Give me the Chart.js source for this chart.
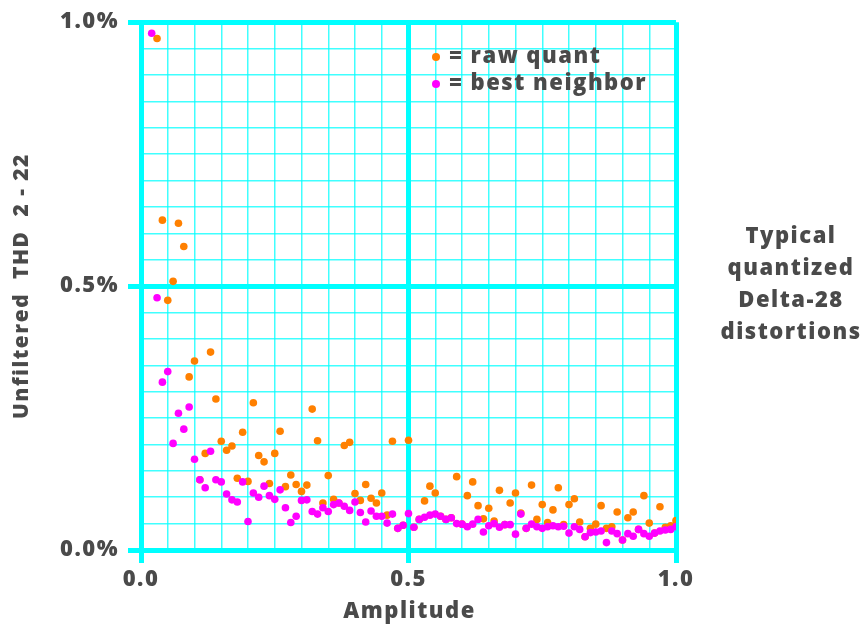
<!DOCTYPE html>
<html lang="en">
<head>
  <meta charset="UTF-8" />
  <title>Delta-28 distortions</title>
  <script src="https://cdn.jsdelivr.net/npm/chart.js"></script>
  <style>
    html, body { margin: 0; padding: 0; background: #fff; }
    #wrap { width: 861px; height: 629px; }
  </style>
</head>
<body>
<div id="wrap"><canvas id="thdChart" width="861" height="629"></canvas></div>
<script>
  // amplitude steps (x)
  const amplitude = [
    0.02, 0.03, 0.04, 0.05, 0.06, 0.07, 0.08, 0.09, 0.10, 0.11,
    0.12, 0.13, 0.14, 0.15, 0.16, 0.17, 0.18, 0.19, 0.20, 0.21,
    0.22, 0.23, 0.24, 0.25, 0.26, 0.27, 0.28, 0.29, 0.30, 0.31,
    0.32, 0.33, 0.34, 0.35, 0.36, 0.37, 0.38, 0.39, 0.40, 0.41,
    0.42, 0.43, 0.44, 0.45, 0.46, 0.47, 0.48, 0.49, 0.50, 0.51,
    0.52, 0.53, 0.54, 0.55, 0.56, 0.57, 0.58, 0.59, 0.60, 0.61,
    0.62, 0.63, 0.64, 0.65, 0.66, 0.67, 0.68, 0.69, 0.70, 0.71,
    0.72, 0.73, 0.74, 0.75, 0.76, 0.77, 0.78, 0.79, 0.80, 0.81,
    0.82, 0.83, 0.84, 0.85, 0.86, 0.87, 0.88, 0.89, 0.90, 0.91,
    0.92, 0.93, 0.94, 0.95, 0.96, 0.97, 0.98, 0.99, 1.00
  ];

  // THD in percent, "raw quant" (orange)
  const rawQuant = [
    null, 0.969, 0.625, 0.473, 0.509, 0.619, 0.575, 0.328, 0.358, 0.133,
    0.183, 0.375, 0.286, 0.206, 0.189, 0.197, 0.136, 0.223, 0.130, 0.279,
    0.179, 0.167, 0.126, 0.183, 0.225, 0.120, 0.142, 0.124, 0.111, 0.123,
    0.267, 0.207, 0.089, 0.141, 0.096, 0.089, 0.198, 0.204, 0.107, 0.094,
    0.124, 0.098, 0.089, 0.108, 0.066, 0.206, 0.041, 0.047, 0.208, 0.043,
    0.058, 0.093, 0.121, 0.108, 0.064, 0.058, 0.061, 0.139, 0.049, 0.103,
    0.129, 0.084, 0.059, 0.079, 0.055, 0.113, 0.048, 0.089, 0.108, 0.070,
    0.041, 0.123, 0.058, 0.086, 0.052, 0.076, 0.118, 0.048, 0.086, 0.097,
    0.053, 0.025, 0.041, 0.049, 0.084, 0.041, 0.044, 0.072, 0.019, 0.061,
    0.072, 0.039, 0.103, 0.051, 0.032, 0.082, 0.043, 0.046, 0.056
  ];

  // THD in percent, "best neighbor" (magenta)
  const bestNeighbor = [
    0.979, 0.478, 0.318, 0.338, 0.202, 0.259, 0.229, 0.271, 0.172, 0.133,
    0.118, 0.187, 0.133, 0.129, 0.106, 0.095, 0.091, 0.129, 0.054, 0.108,
    0.100, 0.121, 0.103, 0.096, 0.114, 0.080, 0.052, 0.064, 0.094, 0.095,
    0.073, 0.068, 0.080, 0.073, 0.086, 0.089, 0.083, 0.075, 0.091, 0.071,
    0.053, 0.074, 0.064, 0.064, 0.051, 0.068, 0.041, 0.047, 0.069, 0.043,
    0.058, 0.062, 0.066, 0.068, 0.064, 0.058, 0.061, 0.050, 0.049, 0.044,
    0.049, 0.058, 0.034, 0.046, 0.050, 0.043, 0.048, 0.048, 0.030, 0.068,
    0.041, 0.049, 0.044, 0.041, 0.044, 0.046, 0.044, 0.045, 0.032, 0.044,
    0.039, 0.025, 0.033, 0.034, 0.036, 0.014, 0.036, 0.031, 0.019, 0.031,
    0.026, 0.039, 0.031, 0.026, 0.032, 0.036, 0.038, 0.039, 0.044
  ];

  const legendLabels = ['= raw quant', '= best neighbor'];
  const noteLines = ['Typical', 'quantized', 'Delta-28', 'distortions'];
  const xTitle = 'Amplitude';
  const yTitle = 'Unfiltered  THD  2 - 22';

  const ORANGE = '#ff8000';
  const MAGENTA = '#ff00ff';
  const CYAN = '#00ffff';
  const TEXT = '#4a4a4a';
  const FONT = '"Open Sans", sans-serif';

  const isMajor = v => Math.abs(v * 2 - Math.round(v * 2)) < 1e-6;

  const toPoints = arr => amplitude.map((a, i) => ({ x: a, y: arr[i] }))
                                   .filter(p => p.y !== null);

  const gridOpts = {
    color: ctx => isMajor(ctx.tick.value) ? CYAN : 'rgba(0,255,255,0.75)',
    lineWidth: ctx => isMajor(ctx.tick.value) ? 5 : 1.5,
    tickColor: ctx => isMajor(ctx.tick.value) ? CYAN : 'rgba(0,0,0,0)',
    tickWidth: 5,
    tickLength: 13,
    drawTicks: true
  };

  // wider lettering, like the original artwork
  const spacing = {
    id: 'spacing',
    beforeDraw(chart) { chart.ctx.letterSpacing = '1.5px'; }
  };

  const extras = {
    id: 'extras',
    afterDraw(chart) {
      const c = chart.ctx;
      const area = chart.chartArea;
      c.save();
      c.letterSpacing = '1.5px';
      c.fillStyle = TEXT;
      c.font = '800 22px ' + FONT;
      c.textBaseline = 'middle';

      // legend inside plot
      const legColors = [ORANGE, MAGENTA];
      const legY = [57, 84];
      legendLabels.forEach((t, i) => {
        c.fillStyle = legColors[i];
        c.beginPath();
        c.arc(436, legY[i], 4, 0, Math.PI * 2);
        c.fill();
        c.fillStyle = TEXT;
        c.textAlign = 'left';
        c.fillText(t, 449, legY[i]);
      });

      // x title
      c.textAlign = 'center';
      c.fillText(xTitle, (area.left + area.right) / 2 + 1, 612);

      // note on the right
      c.font = '800 22px ' + FONT;
      noteLines.forEach((t, i) => c.fillText(t, 791, 237 + i * 32));

      // y title rotated
      c.font = '800 21px ' + FONT;
      c.translate(22, (area.top + area.bottom) / 2);
      c.rotate(-Math.PI / 2);
      c.fillText(yTitle, 0, 0);
      c.restore();
    }
  };

  new Chart(document.getElementById('thdChart'), {
    type: 'scatter',
    data: {
      datasets: [
        { label: 'raw quant', data: toPoints(rawQuant), backgroundColor: ORANGE,
          borderWidth: 0, pointRadius: 3.8, order: 2 },
        { label: 'best neighbor', data: toPoints(bestNeighbor), backgroundColor: MAGENTA,
          borderWidth: 0, pointRadius: 3.8, order: 1 }
      ]
    },
    options: {
      responsive: false,
      animation: false,
      layout: { padding: { top: 17, right: 185, left: 0, bottom: 0 } },
      plugins: { legend: { display: false }, tooltip: { enabled: false } },
      scales: {
        x: {
          type: 'linear', min: 0, max: 1,
          border: { display: false },
          grid: gridOpts,
          afterFit: s => { s.height = 79; },
          afterBuildTicks: s => {
            s.ticks = [];
            for (let i = 0; i <= 20; i++) s.ticks.push({ value: i / 20 });
          },
          ticks: {
            autoSkip: false, maxRotation: 0, padding: 4,
            color: TEXT, font: { family: FONT, size: 22, weight: 800 },
            callback: v => isMajor(v) ? v.toFixed(1) : ''
          }
        },
        y: {
          type: 'linear', min: 0, max: 1,
          border: { display: false },
          grid: gridOpts,
          afterFit: s => { s.width = 141; },
          afterBuildTicks: s => {
            s.ticks = [];
            for (let i = 0; i <= 20; i++) s.ticks.push({ value: i / 20 });
          },
          ticks: {
            autoSkip: false, padding: 9,
            color: TEXT, font: { family: FONT, size: 22, weight: 800 },
            callback: v => isMajor(v) ? v.toFixed(1) + '%' : ''
          }
        }
      }
    },
    plugins: [spacing, extras]
  });
</script>
</body>
</html>
